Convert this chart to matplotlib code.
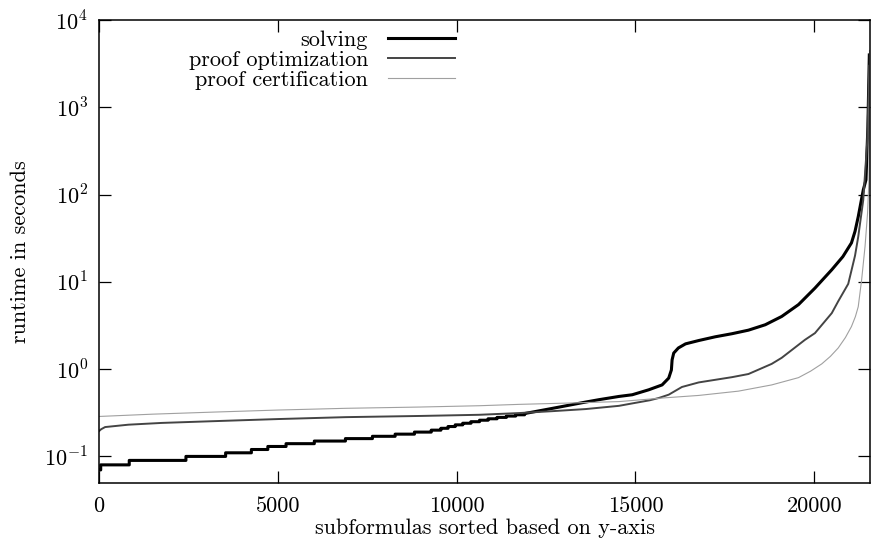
import numpy as np
import matplotlib
matplotlib.use('Agg')
import matplotlib.pyplot as plt
from matplotlib.ticker import FixedLocator, FuncFormatter, NullLocator

plt.rcParams['font.family'] = 'serif'
plt.rcParams['font.serif'] = ['cmr10', 'DejaVu Serif']
plt.rcParams['mathtext.fontset'] = 'cm'
plt.rcParams['axes.unicode_minus'] = False

# ---- data ----
# solving: quantised at 0.01 s in the low part -> staircase, then smooth
solve_step_x = [0, 47, 845, 2430, 3540, 4260, 4720, 5230, 6020, 6890, 7645,
                8280, 8820, 9290, 9560, 9760, 9960, 10170, 10400, 10640,
                10880, 11130, 11390, 11650]
solve_step_v = [0.07, 0.08, 0.09, 0.10, 0.11, 0.12, 0.13, 0.14, 0.15, 0.16,
                0.17, 0.18, 0.19, 0.20, 0.21, 0.22, 0.23, 0.24, 0.25, 0.26,
                0.27, 0.28, 0.29, 0.30]
solve_x = [11900, 12670, 13610, 13980, 14540, 14910, 15370, 15745,
           15930, 16005, 16025, 16070, 16200, 16400, 16770, 17230, 17700,
           18160, 18630, 19090, 19560, 20020, 20490, 20800, 21040, 21140,
           21230, 21370, 21446, 21500, 21540]
solve_y = [0.31, 0.355, 0.42, 0.447, 0.487, 0.509, 0.58, 0.66,
           0.79, 0.98, 1.28, 1.53, 1.75, 1.95, 2.13, 2.35, 2.55,
           2.8, 3.23, 4.02, 5.5, 8.5, 13.8, 19.5, 28, 38,
           56, 113, 148, 600, 4000]

opt_x = [0, 60, 170, 820, 1750, 3140, 5000, 6910, 9000, 10630, 11750, 12670,
         13610, 14540, 14910, 15400, 15650, 15930, 16300, 16770, 17700, 18160,
         18810, 19090, 19740, 20020, 20490, 20670, 20950, 21040, 21140, 21230,
         21370, 21480, 21540]
opt_y = [0.195, 0.205, 0.217, 0.231, 0.242, 0.253, 0.268, 0.282, 0.291, 0.300,
         0.314, 0.33, 0.349, 0.38, 0.405, 0.44, 0.467, 0.51, 0.625, 0.705,
         0.81, 0.88, 1.15, 1.35, 2.17, 2.59, 4.39, 6.0, 9.5, 13.5, 20, 33,
         87, 400, 3000]

cert_x = [0, 1500, 3190, 5000, 6910, 8960, 10630, 11750, 13140, 14540, 15840,
          16770, 17880, 18810, 19560, 19900, 20210, 20450, 20670, 20870, 21040,
          21150, 21230, 21325, 21420, 21490, 21530, 21545]
cert_y = [0.287, 0.305, 0.322, 0.34, 0.356, 0.368, 0.381, 0.395, 0.409, 0.425,
          0.47, 0.50, 0.56, 0.66, 0.80, 0.95, 1.15, 1.4, 1.75, 2.3, 3.08,
          4.0, 5.2, 10.6, 25.5, 61, 148, 4500]

labels = ['solving', 'proof optimization', 'proof certification']
x_ticks = [0, 5000, 10000, 15000, 20000]
y_ticks = [1e-1, 1e0, 1e1, 1e2, 1e3, 1e4]

# expand the staircase part of the solving curve
sx, sy = [], []
for i, (x0, v) in enumerate(zip(solve_step_x, solve_step_v)):
    x1 = solve_step_x[i + 1] if i + 1 < len(solve_step_x) else solve_x[0]
    sx += [x0, x1]
    sy += [v, v]
sx += solve_x
sy += solve_y

fs = 16
fig = plt.figure(figsize=(8.71, 5.39), dpi=100)
ax = fig.add_axes([0.1137, 0.1045, 0.8852, 0.858])

ax.plot(sx, sy, color='black', lw=2.2, label=labels[0])
ax.plot(opt_x, opt_y, color='#444444', lw=1.4, label=labels[1])
ax.plot(cert_x, cert_y, color='#a0a0a0', lw=0.8, label=labels[2])

ax.set_yscale('log')
ax.set_xlim(0, 21560)
ax.set_ylim(0.05, 1e4)
ax.xaxis.set_major_locator(FixedLocator(x_ticks))
ax.yaxis.set_major_locator(FixedLocator(y_ticks))
ax.yaxis.set_minor_locator(NullLocator())
ax.yaxis.set_major_formatter(FuncFormatter(lambda v, p: r'$10^{%d}$' % round(np.log10(v))))
ax.tick_params(direction='in', top=True, right=True, length=8.5, width=0.9,
               labelsize=fs)
ax.tick_params(axis='x', pad=10)
ax.tick_params(axis='y', pad=8)
for s in ax.spines.values():
    s.set_linewidth(1.1)

ax.set_xlabel('subformulas sorted based on y-axis', fontsize=fs, labelpad=2)
ax.set_ylabel('runtime in seconds', fontsize=fs, labelpad=10)

ax.legend(loc='upper right', bbox_to_anchor=(0.4614, 0.978), frameon=False,
          markerfirst=False, fontsize=fs, handlelength=3.0, handletextpad=0.9,
          labelspacing=0.02, borderpad=0, borderaxespad=0)

fig.savefig('out.png', dpi=100)
